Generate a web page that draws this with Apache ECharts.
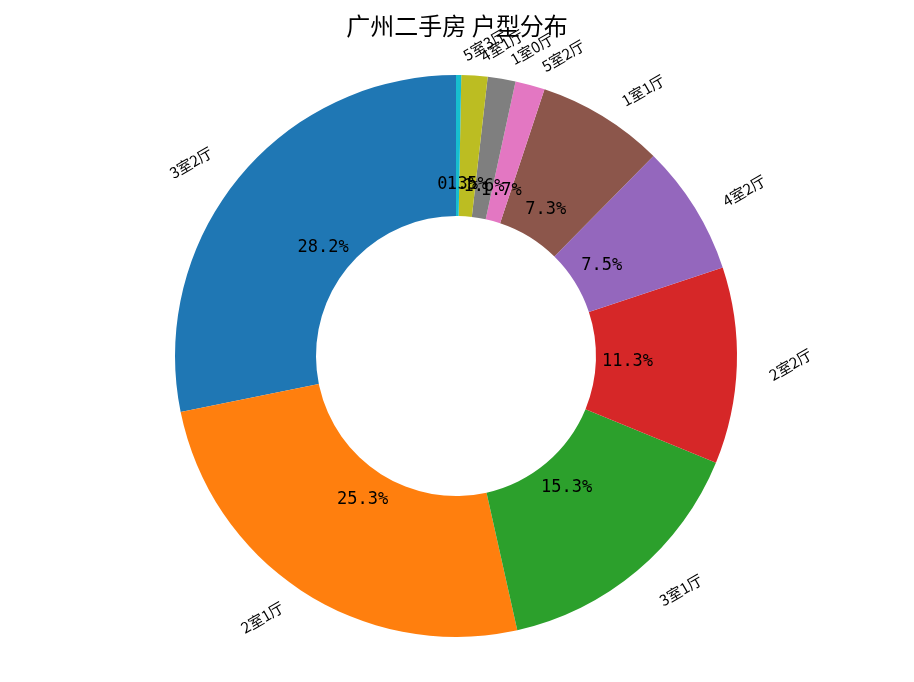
<!DOCTYPE html>
<html><head><meta charset="utf-8">
<script src="https://cdn.jsdelivr.net/npm/echarts@6/dist/echarts.min.js"></script>
<style>html,body{margin:0;padding:0;background:#fff}#c{width:914px;height:682px}</style>
</head><body><div id="c"></div>
<script>
const titleText = '广州二手房 户型分布';
const categories = ['3室2厅','2室1厅','3室1厅','2室2厅','4室2厅','1室1厅','5室2厅','1室0厅','4室1厅','5室3厅'];
const shares = [28.2, 25.3, 15.3, 11.3, 7.5, 7.3, 1.7, 1.6, 1.5, 0.3];
const colors = ['#1f77b4','#ff7f0e','#2ca02c','#d62728','#9467bd','#8c564b','#e377c2','#7f7f7f','#bcbd22','#17becf'];

const CX = 456, CY = 356, R = 281, R0 = 140;
const total = shares.reduce((a, b) => a + b, 0);
let acc = 0;
const rightSide = shares.map(v => {
  const mid = 90 + (acc + v / 2) / total * 360;
  acc += v;
  return Math.cos(mid * Math.PI / 180) > 0;
});
const outerData = categories.map((name, i) => ({ name, value: shares[i], itemStyle: { color: colors[i] } }));
const innerData = categories.map((name, i) => ({ name, value: shares[i] }));

const chart = echarts.init(document.getElementById('c'), null, { renderer: 'canvas' });
chart.setOption({
  backgroundColor: '#fff',
  animation: false,
  title: {
    text: titleText, left: 'center', top: 9,
    textStyle: { fontSize: 24, fontWeight: 'normal', color: '#000', fontFamily: 'Noto Sans CJK SC' }
  },
  series: [
    {
      type: 'pie', center: [CX, CY], radius: [R0, R],
      startAngle: 90, clockwise: false, avoidLabelOverlap: false, silent: true,
      labelLayout: { hideOverlap: false },
      emphasis: { disabled: true },
      itemStyle: { borderWidth: 0 },
      label: {
        show: true, position: 'outside', rotate: 30, distanceToLabelLine: 0,
        fontSize: 15, lineHeight: 22, color: '#000', fontFamily: 'Noto Sans CJK SC',
        formatter: p => rightSide[p.dataIndex] ? '\n' + p.name : p.name + '\n'
      },
      labelLine: { show: false, length: 28, length2: 0 },
      data: outerData
    },
    {
      type: 'pie', center: [CX, CY], radius: [R0, 2 * 0.6 * R - R0],
      startAngle: 90, clockwise: false, avoidLabelOverlap: false, silent: true, z: 5,
      labelLayout: { hideOverlap: false },
      emphasis: { disabled: true },
      itemStyle: { color: 'rgba(0,0,0,0)', borderWidth: 0 },
      label: {
        show: true, position: 'inside', rotate: 0,
        fontSize: 17, color: '#000', fontFamily: 'DejaVu Sans Mono',
        formatter: p => p.value.toFixed(1) + '%'
      },
      labelLine: { show: false },
      data: innerData
    }
  ]
});
</script></body></html>
